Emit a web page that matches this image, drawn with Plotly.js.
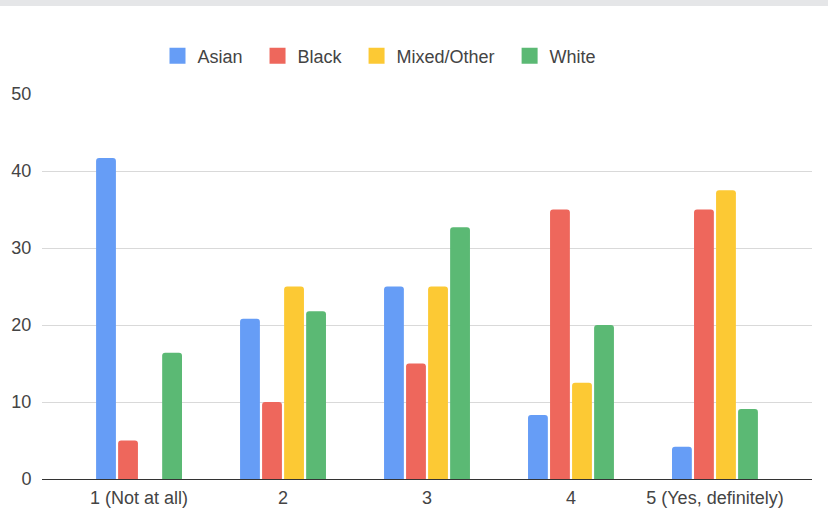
<!DOCTYPE html>
<html>
<head>
<meta charset="utf-8">
<script src="https://cdn.plot.ly/plotly-3.0.1.min.js"></script>
<style>
  html, body { margin: 0; padding: 0; background: #fff; }
  #strip { width: 828px; height: 6px; background: #e5e6e8; }
  #chart { width: 828px; height: 508px; }
</style>
</head>
<body>
<div id="strip"></div>
<div id="chart"></div>
<script>
const categories = ["1 (Not at all)", "2", "3", "4", "5 (Yes, definitely)"];
const seriesNames = ["Asian", "Black", "Mixed/Other", "White"];
const asian = [41.7, 20.8, 25.0, 8.3, 4.2];
const black = [5.0, 10.0, 15.0, 35.0, 35.0];
const mixedOther = [0, 25.0, 25.0, 12.5, 37.5];
const white = [16.4, 21.8, 32.7, 20.0, 9.1];
const colors = ["#669df6", "#ee675c", "#fcc934", "#5bb974"];
const yTicks = [0, 10, 20, 30, 40, 50];

const seriesValues = [asian, black, mixedOther, white];
const legendPad = "\u00a0\u00a0";

const traces = [];
seriesValues.forEach((vals, i) => {
  traces.push({
    type: "bar",
    name: seriesNames[i],
    x: categories,
    y: vals,
    marker: { color: colors[i], line: { width: 0 } },
    showlegend: false,
    hoverinfo: "x+y+name"
  });
});
seriesValues.forEach((vals, i) => {
  traces.push({
    type: "scatter",
    mode: "markers",
    name: seriesNames[i] + (i < seriesNames.length - 1 ? legendPad : ""),
    x: [null],
    y: [null],
    marker: { symbol: "square", size: 16, color: colors[i] },
    showlegend: true,
    hoverinfo: "skip"
  });
});

const layout = {
  width: 828,
  height: 508,
  margin: { l: 42, r: 16, t: 88, b: 35, pad: 0 },
  paper_bgcolor: "#ffffff",
  plot_bgcolor: "#ffffff",
  font: { family: "Liberation Sans, Arial, sans-serif", size: 18, color: "#444444" },
  barmode: "group",
  bargap: 0.388,
  bargroupgap: 0.1,
  barcornerradius: 3,
  showlegend: true,
  legend: {
    orientation: "h",
    x: 0.15,
    xanchor: "left",
    y: 1.0987,
    yanchor: "middle",
    font: { size: 18, color: "#444444" },
    bgcolor: "rgba(0,0,0,0)",
    traceorder: "normal"
  },
  xaxis: {
    type: "category",
    range: [-0.674, 4.674],
    showgrid: false,
    zeroline: false,
    showline: true,
    linecolor: "#333333",
    linewidth: 1,
    ticks: "outside",
    ticklen: 2,
    tickcolor: "rgba(0,0,0,0)",
    tickfont: { size: 18, color: "#444444" },
    fixedrange: true
  },
  yaxis: {
    range: [0, 50],
    tickvals: yTicks,
    ticktext: yTicks.map(String),
    showgrid: true,
    gridcolor: "#d9d9d9",
    gridwidth: 1,
    zeroline: false,
    showline: false,
    ticks: "outside",
    ticklen: 6,
    tickcolor: "rgba(0,0,0,0)",
    tickfont: { size: 18, color: "#444444" },
    fixedrange: true
  }
};

Plotly.newPlot("chart", traces, layout, { displayModeBar: false, staticPlot: true });
</script>
</body>
</html>
